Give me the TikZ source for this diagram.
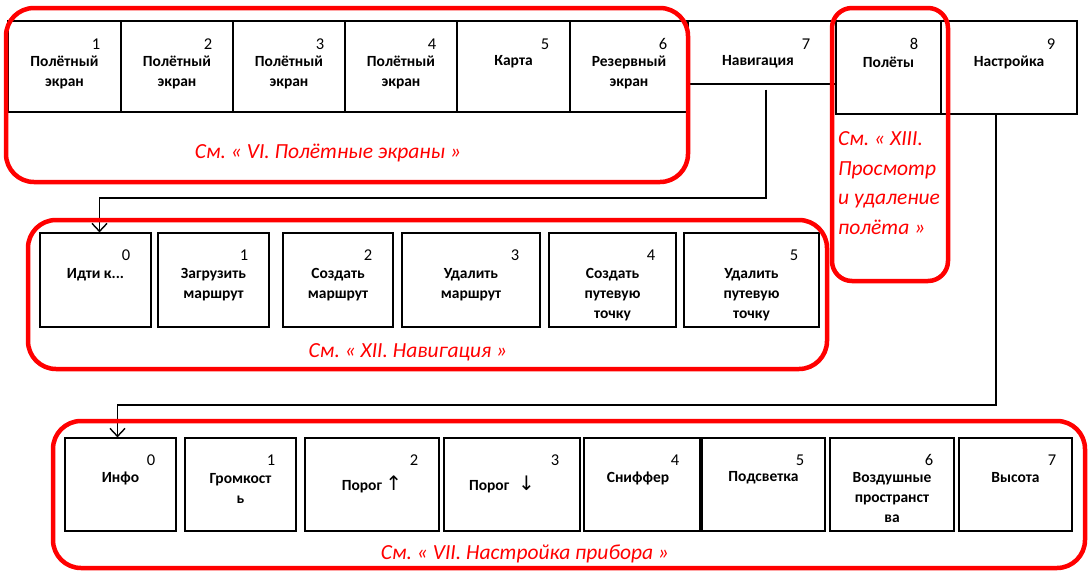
\documentclass[tikz,border=0pt]{standalone}
\usepackage{fontspec}
\setmainfont{Carlito}
\newfontfamily\arrowfont{DejaVu Sans}
\usetikzlibrary{positioning}
\usetikzlibrary{arrows.meta}
\frenchspacing

\tikzset{
	cell/.style={draw, line width=1.2pt, inner sep=0pt},
	num/.style={font=\fontsize{16.5}{18}\selectfont, inner sep=0pt},
	txt/.style={font=\bfseries\fontsize{15.5}{20}\selectfont, align=center, inner sep=0pt},
	frame/.style={draw=red, line width=4.5pt, rounded corners=28pt},
	see/.style={text=red, font=\itshape\fontsize{21.5}{29.5}\selectfont, inner sep=0pt},
	link/.style={line width=1.1pt, -{Straight Barb[length=8pt,width=15pt,line width=1.4pt]}},
}

\begin{document}
\begin{tikzpicture}[x=1pt,y=-1pt]
	\useasboundingbox (0,0) rectangle (1088,571);
	%% top menu
	\node[cell, minimum width=113, minimum height=91] (scr1) at (64.5,66.5) {};
	\node[num] (scr1n) at (96,44) {1};
	\node[txt] (scr1t) at (64.5,72) {Полётный\\экран};
	\node[cell, minimum width=112, minimum height=91] (scr2) at (177,66.5) {};
	\node[num] (scr2n) at (208,44) {2};
	\node[txt] (scr2t) at (177,72) {Полётный\\экран};
	\node[cell, minimum width=112, minimum height=91] (scr3) at (289,66.5) {};
	\node[num] (scr3n) at (320,44) {3};
	\node[txt] (scr3t) at (289,72) {Полётный\\экран};
	\node[cell, minimum width=112, minimum height=91] (scr4) at (401,66.5) {};
	\node[num] (scr4n) at (432,44) {4};
	\node[txt] (scr4t) at (401,72) {Полётный\\экран};
	\node[cell, minimum width=113, minimum height=91] (map5) at (513.5,66.5) {};
	\node[num] (map5n) at (545,44) {5};
	\node[txt] (map5t) at (513.5,62) {Карта};
	\node[cell, minimum width=118, minimum height=91] (res6) at (629,66.5) {};
	\node[num] (res6n) at (663,44) {6};
	\node[txt] (res6t) at (629,72) {Резервный\\экран};
	\node[cell, minimum width=148, minimum height=63] (nav7) at (762,52.5) {};
	\node[num] (nav7n) at (806,44) {7};
	\node[txt] (nav7t) at (758,62) {Навигация};
	\node[cell, minimum width=105, minimum height=93] (flt8) at (888.5,67.5) {};
	\node[num] (flt8n) at (914,44) {8};
	\node[txt] (flt8t) at (888.5,62) {Полёты};
	\node[cell, minimum width=136, minimum height=93] (set9) at (1009,67.5) {};
	\node[num] (set9n) at (1051,44) {9};
	\node[txt] (set9t) at (1009,62) {Настройка};

	%% navigation menu
	\node[cell, minimum width=111, minimum height=94] (go0) at (95.5,280) {};
	\node[num] (go0n) at (126,255) {0};
	\node[txt] (go0t) at (95.5,275) {Идти к...};
	\node[cell, minimum width=111, minimum height=94] (load1) at (213.5,280) {};
	\node[num] (load1n) at (244,255) {1};
	\node[txt] (load1t) at (213.5,285) {Загрузить\\маршрут};
	\node[cell, minimum width=110, minimum height=94] (mkrt2) at (338,280) {};
	\node[num] (mkrt2n) at (368,255) {2};
	\node[txt] (mkrt2t) at (338,285) {Создать\\маршрут};
	\node[cell, minimum width=138, minimum height=94] (delrt3) at (471,280) {};
	\node[num] (delrt3n) at (515,255) {3};
	\node[txt] (delrt3t) at (471,285) {Удалить\\маршрут};
	\node[cell, minimum width=127, minimum height=94] (mkwp4) at (612.5,280) {};
	\node[num] (mkwp4n) at (651,255) {4};
	\node[txt] (mkwp4t) at (612.5,295) {Создать\\путевую\\точку};
	\node[cell, minimum width=135, minimum height=94] (delwp5) at (751.5,280) {};
	\node[num] (delwp5n) at (794,255) {5};
	\node[txt] (delwp5t) at (751.5,295) {Удалить\\путевую\\точку};

	%% settings menu
	\node[cell, minimum width=111, minimum height=93] (info0) at (120.5,484.5) {};
	\node[num] (info0n) at (151,460) {0};
	\node[txt] (info0t) at (120.5,478) {Инфо};
	\node[cell, minimum width=111, minimum height=93] (vol1) at (240.5,484.5) {};
	\node[num] (vol1n) at (271,460) {1};
	\node[txt] (vol1t) at (240.5,488) {Громкост\\ь};
	\node[cell, minimum width=134, minimum height=93] (up2) at (372,484.5) {};
	\node[num] (up2n) at (414,460) {2};
	\node[txt] (up2t) at (372,484) {Порог {\arrowfont\mdseries\fontsize{20}{20}\selectfont ↑}};
	\node[cell, minimum width=136, minimum height=93] (down3) at (512,484.5) {};
	\node[num] (down3n) at (555,460) {3};
	\node[txt] (down3t) at (502,484) {Порог\hspace{9pt}{\arrowfont\mdseries\fontsize{20}{20}\selectfont ↓}};
	\node[cell, minimum width=116, minimum height=93] (snif4) at (642,484.5) {};
	\node[num] (snif4n) at (675,460) {4};
	\node[txt] (snif4t) at (638,478) {Сниффер};
	\node[cell, minimum width=123, minimum height=93] (lite5) at (763.5,484.5) {};
	\node[num] (lite5n) at (800,460) {5};
	\node[txt] (lite5t) at (763.5,478) {Подсветка};
	\node[cell, minimum width=124, minimum height=93] (air6) at (892,484.5) {};
	\node[num] (air6n) at (929,460) {6};
	\node[txt] (air6t) at (892,498) {Воздушные\\пространст\\ва};
	\node[cell, minimum width=113, minimum height=93] (alt7) at (1015.5,484.5) {};
	\node[num] (alt7n) at (1052,460) {7};
	\node[txt] (alt7t) at (1015.5,478) {Высота};

	% connectors
	\coordinate (navturn) at (766,198);
	\coordinate (setturn) at (996,405);
	\draw[link] ([xshift=4pt,yshift=-5pt]nav7.south) -- (navturn) -| ([xshift=4pt]go0.north);
	\draw[link] ([xshift=-13pt]set9.south) -- (setturn) -| ([xshift=-3pt]info0.north);

	% red frames
	\draw[frame] (6,8) rectangle (688,182);
	\draw[frame, rounded corners=20pt] (832,8) rectangle (948,281);
	\draw[frame] (28,220) rectangle (827,369);
	\draw[frame] (53,421) rectangle (1085,568);
	\node[see] (seescr) at (328,153) {См. « VI. Полётные экраны »};
	\node[see, align=left, anchor=west] (seeflt) at (838,183) {См. « XIII.\\Просмотр\\и удаление\\полёта »};
	\node[see] (seenav) at (408,352) {См. « XII. Навигация »};
	\node[see] (seeset) at (525,554) {См. « VII. Настройка прибора »};
\end{tikzpicture}
\end{document}
